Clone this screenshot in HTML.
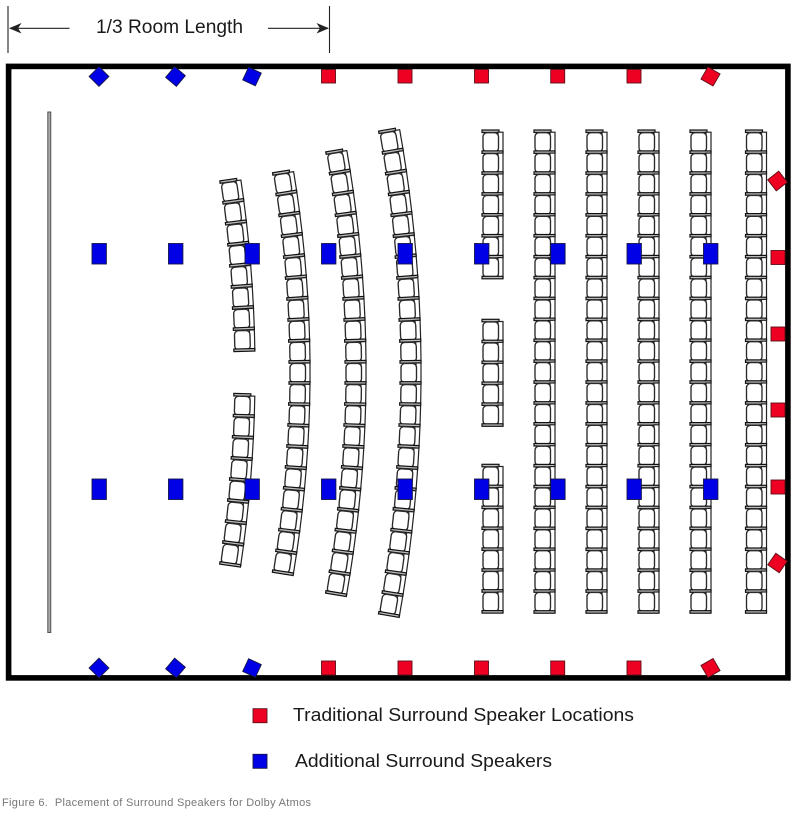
<!DOCTYPE html>
<html>
<head>
<meta charset="utf-8">
<style>
html,body{margin:0;padding:0;background:#fff;width:797px;height:816px;overflow:hidden}
svg{display:block;filter:blur(.35px)}
text{font-family:"Liberation Sans",sans-serif;fill:#1a1a1a}
.b{fill:#0000e6;stroke:#15154a;stroke-width:.9}
.r{fill:#ee0022;stroke:#5a1018;stroke-width:.9}
</style>
</head>
<body>
<svg width="797" height="816" viewBox="0 0 797 816" xmlns="http://www.w3.org/2000/svg">
<defs>
<g id="s">
<rect x="16" y="1.5" width="5" height="20" fill="#fff" stroke="#222" stroke-width="1.2"/>
<rect x="1" y="2" width="15.5" height="19.2" rx="4" fill="#fff" stroke="#2a2a2a" stroke-width="1.35"/>
<rect x="0" y="20.2" width="21" height="2.5" fill="#bbb" stroke="#111" stroke-width="1.2"/>
</g>
<rect id="t" x="0" y="-.7" width="17" height="2.5" fill="#bbb" stroke="#111" stroke-width="1.2"/>
<g id="s5">
<use href="#s"/><use href="#s" y="20.9"/><use href="#s" y="41.8"/><use href="#s" y="62.7"/><use href="#s" y="83.6"/>
</g>
<g id="c5"><use href="#t"/><use href="#s5"/></g>
<g id="c7"><use href="#t"/><use href="#s5"/><use href="#s" y="104.5"/><use href="#s" y="125.4"/></g>
<g id="c23">
<use href="#t"/><use href="#s5"/><use href="#s5" y="104.5"/><use href="#s5" y="209"/><use href="#s5" y="313.5"/>
<use href="#s" y="418"/><use href="#s" y="438.9"/><use href="#s" y="459.8"/>
</g>
</defs>
<rect width="797" height="816" fill="#fff"/>

<!-- dimension -->
<g stroke="#222" stroke-width="1.1" fill="none">
<path d="M8 6V53M329.5 6V53M10 28.3H69.5M268 28.3H328"/>
</g>
<path d="M9 28.3L21.5 23L18 28.3L21.5 33.5Z M329 28.3L316.5 23L320 28.3L316.5 33.5Z" fill="#222"/>
<text x="96" y="33" font-size="19" textLength="147" lengthAdjust="spacingAndGlyphs">1/3 Room Length</text>

<!-- screen -->
<rect x="47.8" y="112" width="3" height="520.5" fill="#aaa" stroke="#444" stroke-width=".9"/>

<!-- straight rows -->
<use href="#c7" x="482" y="130.7"/>
<use href="#c5" x="482" y="320"/>
<use href="#c7" x="482" y="465"/>
<use href="#c23" x="534" y="130.7"/>
<use href="#c23" x="586" y="130.7"/>
<use href="#c23" x="638" y="130.7"/>
<use href="#c23" x="690" y="130.7"/>
<use href="#c23" x="745.5" y="130.7"/>

<!-- curved row 1 -->
<g transform="translate(-1055 372)">
<use href="#t" transform="rotate(-8.03) translate(1289 -10.5)"/>
<use href="#s" transform="rotate(-8.03) translate(1289 -10.5)"/>
<use href="#s" transform="rotate(-7.09) translate(1289 -10.5)"/>
<use href="#s" transform="rotate(-6.15) translate(1289 -10.5)"/>
<use href="#s" transform="rotate(-5.21) translate(1289 -10.5)"/>
<use href="#s" transform="rotate(-4.27) translate(1289 -10.5)"/>
<use href="#s" transform="rotate(-3.33) translate(1289 -10.5)"/>
<use href="#s" transform="rotate(-2.39) translate(1289 -10.5)"/>
<use href="#s" transform="rotate(-1.45) translate(1289 -10.5)"/>
<use href="#t" transform="rotate(1.45) translate(1289 -10.5)"/>
<use href="#s" transform="rotate(1.45) translate(1289 -10.5)"/>
<use href="#s" transform="rotate(2.39) translate(1289 -10.5)"/>
<use href="#s" transform="rotate(3.33) translate(1289 -10.5)"/>
<use href="#s" transform="rotate(4.27) translate(1289 -10.5)"/>
<use href="#s" transform="rotate(5.21) translate(1289 -10.5)"/>
<use href="#s" transform="rotate(6.15) translate(1289 -10.5)"/>
<use href="#s" transform="rotate(7.09) translate(1289 -10.5)"/>
<use href="#s" transform="rotate(8.03) translate(1289 -10.5)"/>
</g>
<!-- curved row 2 -->
<g transform="translate(-920 372)">
<use href="#t" transform="rotate(-8.955) translate(1209 -10.5)"/>
<use href="#s" transform="rotate(-8.955) translate(1209 -10.5)"/>
<use href="#s" transform="rotate(-7.96) translate(1209 -10.5)"/>
<use href="#s" transform="rotate(-6.965) translate(1209 -10.5)"/>
<use href="#s" transform="rotate(-5.97) translate(1209 -10.5)"/>
<use href="#s" transform="rotate(-4.975) translate(1209 -10.5)"/>
<use href="#s" transform="rotate(-3.98) translate(1209 -10.5)"/>
<use href="#s" transform="rotate(-2.985) translate(1209 -10.5)"/>
<use href="#s" transform="rotate(-1.99) translate(1209 -10.5)"/>
<use href="#s" transform="rotate(-.995) translate(1209 -10.5)"/>
<use href="#s" transform="translate(1209 -10.5)"/>
<use href="#s" transform="rotate(.995) translate(1209 -10.5)"/>
<use href="#s" transform="rotate(1.99) translate(1209 -10.5)"/>
<use href="#s" transform="rotate(2.985) translate(1209 -10.5)"/>
<use href="#s" transform="rotate(3.98) translate(1209 -10.5)"/>
<use href="#s" transform="rotate(4.975) translate(1209 -10.5)"/>
<use href="#s" transform="rotate(5.97) translate(1209 -10.5)"/>
<use href="#s" transform="rotate(6.965) translate(1209 -10.5)"/>
<use href="#s" transform="rotate(7.96) translate(1209 -10.5)"/>
<use href="#s" transform="rotate(8.955) translate(1209 -10.5)"/>
</g>
<!-- curved row 3 -->
<g transform="translate(-919 372)">
<use href="#t" transform="rotate(-9.52) translate(1264 -10.5)"/>
<use href="#s" transform="rotate(-9.52) translate(1264 -10.5)"/>
<use href="#s" transform="rotate(-8.568) translate(1264 -10.5)"/>
<use href="#s" transform="rotate(-7.616) translate(1264 -10.5)"/>
<use href="#s" transform="rotate(-6.664) translate(1264 -10.5)"/>
<use href="#s" transform="rotate(-5.712) translate(1264 -10.5)"/>
<use href="#s" transform="rotate(-4.76) translate(1264 -10.5)"/>
<use href="#s" transform="rotate(-3.808) translate(1264 -10.5)"/>
<use href="#s" transform="rotate(-2.856) translate(1264 -10.5)"/>
<use href="#s" transform="rotate(-1.904) translate(1264 -10.5)"/>
<use href="#s" transform="rotate(-.952) translate(1264 -10.5)"/>
<use href="#s" transform="translate(1264 -10.5)"/>
<use href="#s" transform="rotate(.952) translate(1264 -10.5)"/>
<use href="#s" transform="rotate(1.904) translate(1264 -10.5)"/>
<use href="#s" transform="rotate(2.856) translate(1264 -10.5)"/>
<use href="#s" transform="rotate(3.808) translate(1264 -10.5)"/>
<use href="#s" transform="rotate(4.76) translate(1264 -10.5)"/>
<use href="#s" transform="rotate(5.712) translate(1264 -10.5)"/>
<use href="#s" transform="rotate(6.664) translate(1264 -10.5)"/>
<use href="#s" transform="rotate(7.616) translate(1264 -10.5)"/>
<use href="#s" transform="rotate(8.568) translate(1264 -10.5)"/>
<use href="#s" transform="rotate(9.52) translate(1264 -10.5)"/>
</g>
<!-- curved row 4 -->
<g transform="translate(-964 372)">
<use href="#t" transform="rotate(-9.702) translate(1364 -10.5)"/>
<use href="#s" transform="rotate(-9.702) translate(1364 -10.5)"/>
<use href="#s" transform="rotate(-8.82) translate(1364 -10.5)"/>
<use href="#s" transform="rotate(-7.938) translate(1364 -10.5)"/>
<use href="#s" transform="rotate(-7.056) translate(1364 -10.5)"/>
<use href="#s" transform="rotate(-6.174) translate(1364 -10.5)"/>
<use href="#s" transform="rotate(-5.292) translate(1364 -10.5)"/>
<use href="#s" transform="rotate(-4.41) translate(1364 -10.5)"/>
<use href="#s" transform="rotate(-3.528) translate(1364 -10.5)"/>
<use href="#s" transform="rotate(-2.646) translate(1364 -10.5)"/>
<use href="#s" transform="rotate(-1.764) translate(1364 -10.5)"/>
<use href="#s" transform="rotate(-.882) translate(1364 -10.5)"/>
<use href="#s" transform="translate(1364 -10.5)"/>
<use href="#s" transform="rotate(.882) translate(1364 -10.5)"/>
<use href="#s" transform="rotate(1.764) translate(1364 -10.5)"/>
<use href="#s" transform="rotate(2.646) translate(1364 -10.5)"/>
<use href="#s" transform="rotate(3.528) translate(1364 -10.5)"/>
<use href="#s" transform="rotate(4.41) translate(1364 -10.5)"/>
<use href="#s" transform="rotate(5.292) translate(1364 -10.5)"/>
<use href="#s" transform="rotate(6.174) translate(1364 -10.5)"/>
<use href="#s" transform="rotate(7.056) translate(1364 -10.5)"/>
<use href="#s" transform="rotate(7.938) translate(1364 -10.5)"/>
<use href="#s" transform="rotate(8.82) translate(1364 -10.5)"/>
<use href="#s" transform="rotate(9.702) translate(1364 -10.5)"/>
</g>

<!-- room -->
<rect x="8.6" y="66.4" width="779.3" height="611.5" fill="none" stroke="#000" stroke-width="5.6"/>

<!-- blue mid speakers -->
<g class="b">
<rect x="92" y="243.5" width="14.4" height="20.5"/>
<rect x="168.5" y="243.5" width="14.4" height="20.5"/>
<rect x="245" y="243.5" width="14.4" height="20.5"/>
<rect x="321.5" y="243.5" width="14.4" height="20.5"/>
<rect x="398" y="243.5" width="14.4" height="20.5"/>
<rect x="474.5" y="243.5" width="14.4" height="20.5"/>
<rect x="550.7" y="243.5" width="14.4" height="20.5"/>
<rect x="627" y="243.5" width="14.4" height="20.5"/>
<rect x="703.5" y="243.5" width="14.4" height="20.5"/>
<rect x="92" y="479" width="14.4" height="20.5"/>
<rect x="168.5" y="479" width="14.4" height="20.5"/>
<rect x="245" y="479" width="14.4" height="20.5"/>
<rect x="321.5" y="479" width="14.4" height="20.5"/>
<rect x="398" y="479" width="14.4" height="20.5"/>
<rect x="474.5" y="479" width="14.4" height="20.5"/>
<rect x="550.7" y="479" width="14.4" height="20.5"/>
<rect x="627" y="479" width="14.4" height="20.5"/>
<rect x="703.5" y="479" width="14.4" height="20.5"/>
<!-- rotated blue top/bottom -->
<rect x="-7" y="-7" width="14" height="14" transform="translate(99 76.5) rotate(45)"/>
<rect x="-7" y="-7" width="14" height="14" transform="translate(175.5 76.5) rotate(40)"/>
<rect x="-7" y="-7" width="14" height="14" transform="translate(252 76.5) rotate(25)"/>
<rect x="-7" y="-7" width="14" height="14" transform="translate(99 668) rotate(45)"/>
<rect x="-7" y="-7" width="14" height="14" transform="translate(175.5 668) rotate(40)"/>
<rect x="-7" y="-7" width="14" height="14" transform="translate(252 668) rotate(25)"/>
</g>

<!-- red speakers -->
<g class="r">
<rect x="321.5" y="69.5" width="14" height="13.5"/>
<rect x="398" y="69.5" width="14" height="13.5"/>
<rect x="474.5" y="69.5" width="14" height="13.5"/>
<rect x="550.7" y="69.5" width="14" height="13.5"/>
<rect x="627" y="69.5" width="14" height="13.5"/>
<rect x="-7" y="-7" width="14" height="14" transform="translate(710.5 76.5) rotate(30)"/>
<rect x="321.5" y="661" width="14" height="14"/>
<rect x="398" y="661" width="14" height="14"/>
<rect x="474.5" y="661" width="14" height="14"/>
<rect x="550.7" y="661" width="14" height="14"/>
<rect x="627" y="661" width="14" height="14"/>
<rect x="-7" y="-7" width="14" height="14" transform="translate(710.5 668) rotate(-30)"/>
<rect x="-7" y="-7" width="14" height="14" transform="translate(777.5 181) rotate(-38)"/>
<rect x="-7" y="-7" width="14" height="14" transform="translate(777.5 563) rotate(35)"/>
<rect x="771" y="250.5" width="14" height="14"/>
<rect x="771" y="327" width="14" height="14"/>
<rect x="771" y="403" width="14" height="14"/>
<rect x="771" y="480" width="14" height="14"/>
</g>

<!-- legend -->
<rect class="r" x="253" y="708.7" width="14" height="14"/>
<rect class="b" x="253" y="754.3" width="14" height="14"/>
<text x="293" y="721" font-size="18.5" textLength="341" lengthAdjust="spacingAndGlyphs">Traditional Surround Speaker Locations</text>
<text x="295" y="767" font-size="18.5" textLength="257" lengthAdjust="spacingAndGlyphs">Additional Surround Speakers</text>

<!-- caption -->
<text x="2" y="806" font-size="11" textLength="309" style="fill:#777;white-space:pre" xml:space="preserve">Figure 6.  Placement of Surround Speakers for Dolby Atmos</text>
</svg>
</body>
</html>
